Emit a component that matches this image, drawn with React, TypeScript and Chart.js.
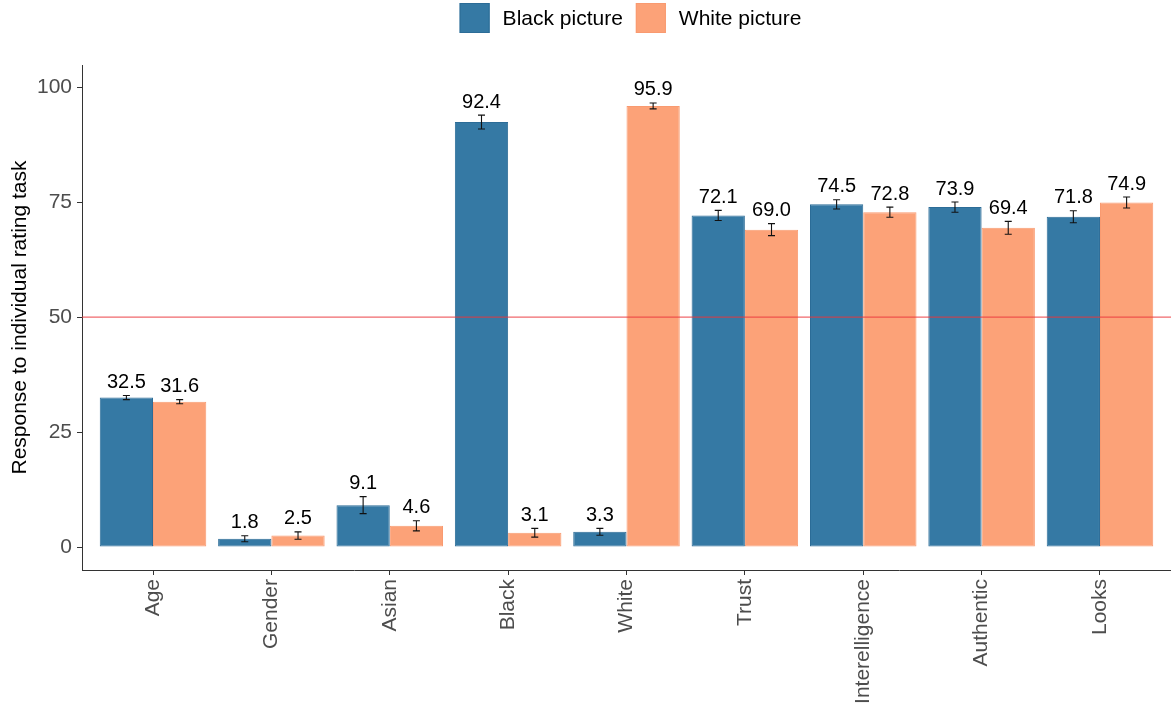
import React, { useEffect, useRef } from "react";
import { Chart, registerables } from "chart.js";

Chart.register(...registerables);

const categories = ["Age", "Gender", "Asian", "Black", "White", "Trust", "Interelligence", "Authentic", "Looks"];
const seriesNames = ["Black picture", "White picture"];
const blackValues = [32.5, 1.8, 9.1, 92.4, 3.3, 72.1, 74.5, 73.9, 71.8];
const whiteValues = [31.6, 2.5, 4.6, 3.1, 95.9, 69.0, 72.8, 69.4, 74.9];
const blackErrors = [0.45, 0.65, 1.85, 1.5, 0.75, 1.1, 1.0, 1.1, 1.3];
const whiteErrors = [0.45, 0.8, 1.1, 0.95, 0.65, 1.3, 1.1, 1.4, 1.2];
const yTicks = [0, 25, 50, 75, 100];
const referenceLine = 50;
const yTitle = "Response to individual rating task";

const FONT = "'Liberation Sans', Arial, Helvetica, sans-serif";
const BLUE_FILL = "#3579a4";
const BLUE_BORDER = "#2c6c97";
const ORANGE_FILL = "#fca278";
const ORANGE_BORDER = "#f99a70";

const overlayPlugin = {
  id: "overlay",
  afterDatasetsDraw(chart: any) {
    const ctx = chart.ctx;
    const y = chart.scales.y;
    const area = chart.chartArea;
    ctx.save();
    // error bars
    chart.data.datasets.forEach((ds: any, di: number) => {
      const meta = chart.getDatasetMeta(di);
      meta.data.forEach((el: any, i: number) => {
        const v = ds.data[i].y;
        const e = ds.errors[i];
        const top = y.getPixelForValue(v + e);
        const bot = y.getPixelForValue(v - e);
        const x = el.x;
        ctx.strokeStyle = "#111";
        ctx.lineWidth = 1.1;
        ctx.beginPath();
        ctx.moveTo(x, top);
        ctx.lineTo(x, bot);
        ctx.moveTo(x - 3.5, top);
        ctx.lineTo(x + 3.5, top);
        ctx.moveTo(x - 3.5, bot);
        ctx.lineTo(x + 3.5, bot);
        ctx.stroke();
      });
    });
    // reference line
    const py = y.getPixelForValue(referenceLine);
    ctx.strokeStyle = "rgba(235, 55, 60, 0.75)";
    ctx.lineWidth = 1.2;
    ctx.beginPath();
    ctx.moveTo(area.left, py);
    ctx.lineTo(area.right, py);
    ctx.stroke();
    // value labels
    ctx.fillStyle = "#000";
    ctx.font = `20px ${FONT}`;
    ctx.textAlign = "center";
    ctx.textBaseline = "middle";
    chart.data.datasets.forEach((ds: any, di: number) => {
      const meta = chart.getDatasetMeta(di);
      meta.data.forEach((el: any, i: number) => {
        const v = ds.data[i].y;
        const e = ds.errors[i];
        const top = y.getPixelForValue(v + e);
        ctx.fillText(v.toFixed(1), el.x, top - 13);
      });
    });
    ctx.restore();
  },
  afterDraw(chart: any) {
    const ctx = chart.ctx;
    const area = chart.chartArea;
    ctx.save();
    ctx.font = `21px ${FONT}`;
    const box = 30;
    const gapText = 13;
    const gapItem = 13;
    const w1 = ctx.measureText(seriesNames[0]).width;
    const w2 = ctx.measureText(seriesNames[1]).width;
    const total = box + gapText + w1 + gapItem + box + gapText + w2;
    let x = (area.left + area.right) / 2 + 4 - total / 2;
    const cy = 18;
    const items = [
      { name: seriesNames[0], fill: BLUE_FILL, border: BLUE_BORDER, w: w1 },
      { name: seriesNames[1], fill: ORANGE_FILL, border: ORANGE_BORDER, w: w2 },
    ];
    items.forEach((it) => {
      ctx.fillStyle = it.fill;
      ctx.fillRect(x, cy - box / 2, box, box);
      ctx.strokeStyle = it.border;
      ctx.lineWidth = 1;
      ctx.strokeRect(x + 0.5, cy - box / 2 + 0.5, box - 1, box - 1);
      x += box + gapText;
      ctx.fillStyle = "#000";
      ctx.textAlign = "left";
      ctx.textBaseline = "middle";
      ctx.fillText(it.name, x, cy + 1);
      x += it.w + gapItem;
    });
    ctx.restore();
  },
};

export default function App() {
  const ref = useRef<HTMLCanvasElement>(null);
  useEffect(() => {
    document.body.style.margin = "0";
    const canvas = ref.current;
    if (!canvas) return;
    const mk = (vals: number[]) => vals.map((v, i) => ({ x: i, y: v }));
    const chart = new Chart(canvas, {
      type: "bar",
      data: {
        datasets: [
          {
            label: seriesNames[0],
            data: mk(blackValues),
            errors: blackErrors,
            backgroundColor: BLUE_FILL,
            borderColor: BLUE_BORDER,
            borderWidth: 1,
            borderSkipped: false,
            barPercentage: 1,
            categoryPercentage: 0.9,
          } as any,
          {
            label: seriesNames[1],
            data: mk(whiteValues),
            errors: whiteErrors,
            backgroundColor: ORANGE_FILL,
            borderColor: ORANGE_BORDER,
            borderWidth: 1,
            borderSkipped: false,
            barPercentage: 1,
            categoryPercentage: 0.9,
          } as any,
        ],
      },
      options: {
        responsive: false,
        animation: false,
        layout: { padding: { top: 65, left: 0, right: 0, bottom: 0 } },
        plugins: { legend: { display: false }, tooltip: { enabled: false } },
        scales: {
          x: {
            type: "linear",
            min: -0.6,
            max: 8.6,
            offset: false,
            afterBuildTicks: (s: any) => {
              s.ticks = categories.map((_, i) => ({ value: i }));
            },
            afterFit: (s: any) => {
              s.height = 135;
            },
            ticks: {
              autoSkip: false,
              minRotation: 90,
              maxRotation: 90,
              padding: 4,
              color: "#4d4d4d",
              font: { family: FONT, size: 21 },
              callback: (v: any) => categories[Math.round(Number(v))],
            },
            grid: { display: true, drawOnChartArea: false, drawTicks: true, tickLength: 5, color: "#333", offset: false },
            border: { display: true, color: "#333", width: 1 },
          } as any,
          y: {
            min: -5,
            max: 104.8,
            afterBuildTicks: (s: any) => {
              s.ticks = yTicks.map((v) => ({ value: v }));
            },
            afterFit: (s: any) => {
              s.width = 82;
            },
            ticks: { padding: 5, color: "#4d4d4d", font: { family: FONT, size: 21 } },
            grid: { display: true, drawOnChartArea: false, drawTicks: true, tickLength: 5, color: "#333" },
            border: { display: true, color: "#333", width: 1 },
            title: {
              display: true,
              text: yTitle,
              color: "#000",
              font: { family: FONT, size: 21 },
              padding: { top: 8, bottom: 0 },
            },
          } as any,
        },
      },
      plugins: [overlayPlugin],
    } as any);
    return () => chart.destroy();
  }, []);
  return (
    <div style={{ width: 1171, height: 705 }}>
      <canvas ref={ref} width={1171} height={705} />
    </div>
  );
}
